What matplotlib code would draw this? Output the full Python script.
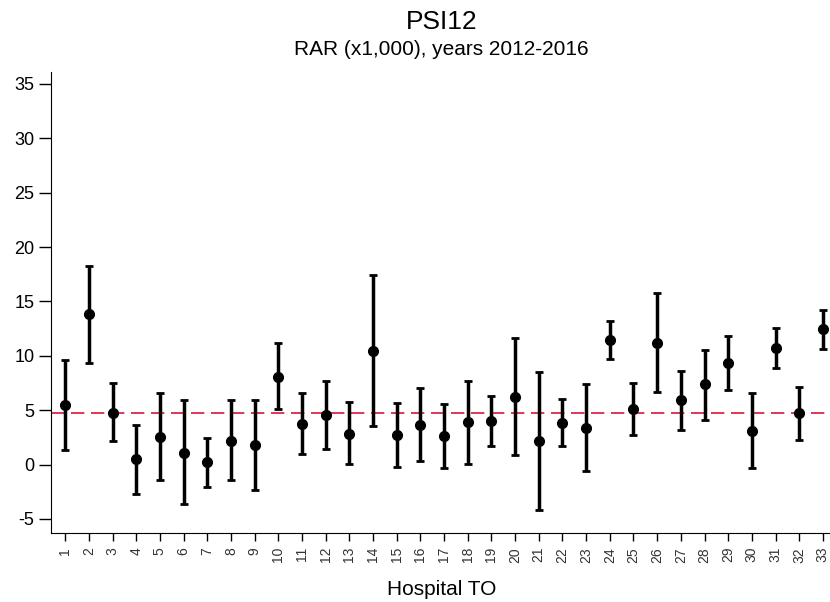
import numpy as np
from matplotlib import pyplot as plt

plt.rcParams["font.family"] = ["Liberation Sans", "DejaVu Sans"]
plt.rcParams["axes.unicode_minus"] = False

hospitals = np.arange(1, 34)
rar = [5.46, 13.81, 4.75, 0.49, 2.51, 1.10, 0.21, 2.17, 1.75, 8.07,
       3.71, 4.51, 2.85, 10.46, 2.67, 3.62, 2.64, 3.87, 4.02, 6.23,
       2.15, 3.83, 3.37, 11.45, 5.09, 11.14, 5.92, 7.37, 9.36, 3.10,
       10.71, 4.70, 12.43]
upper = [9.60, 18.26, 7.46, 3.59, 6.54, 5.95, 2.42, 5.95, 5.95, 11.14,
         6.54, 7.70, 5.74, 17.43, 5.62, 7.00, 5.52, 7.70, 6.29, 11.66,
         8.53, 5.98, 7.39, 13.23, 7.51, 15.75, 8.62, 10.52, 11.81, 6.60,
         12.55, 7.09, 14.21]
lower = [1.38, 9.36, 2.17, -2.67, -1.45, -3.59, -2.06, -1.45, -2.30, 5.09,
         0.95, 1.47, 0.06, 3.56, -0.22, 0.30, -0.28, 0.06, 1.69, 0.86,
         -4.21, 1.72, -0.64, 9.70, 2.73, 6.63, 3.13, 4.08, 6.84, -0.34,
         8.90, 2.30, 10.65]
reference = 4.70


def main():
    y = np.array(rar)
    yerr = [y - np.array(lower), np.array(upper) - y]

    fig = plt.figure(figsize=(8.3, 6.02), dpi=100)
    ax = fig.add_axes([0.0614, 0.1146, 0.9386, 0.7658])

    ax.axhline(reference, color="#d6163c", lw=1.2, dashes=(8, 4), zorder=1)
    ax.errorbar(hospitals, y, yerr=yerr, fmt="o", color="black", ms=7,
                elinewidth=2.5, capsize=3, capthick=2, zorder=2)

    ax.set_xlim(0.4, 33.3)
    ax.set_ylim(-6.3, 36.1)
    ax.set_xticks(hospitals)
    ax.set_xticklabels([str(h) for h in hospitals], rotation=90, fontsize=10,
                       color="#333333")
    ax.set_yticks(np.arange(-5, 36, 5))
    ax.tick_params(axis="y", labelsize=13, length=9, width=1, pad=3)
    ax.tick_params(axis="x", length=6, width=1, pad=4)
    for side in ["top", "right"]:
        ax.spines[side].set_visible(False)

    fig.text(0.532, 0.963, "PSI12", ha="center", va="center", fontsize=19)
    fig.text(0.532, 0.917, "RAR (x1,000), years 2012-2016", ha="center",
             va="center", fontsize=15)
    fig.text(0.532, 0.02, "Hospital TO", ha="center", va="center",
             fontsize=15)

    fig.savefig("out.png", dpi=100)


if __name__ == "__main__":
    main()
